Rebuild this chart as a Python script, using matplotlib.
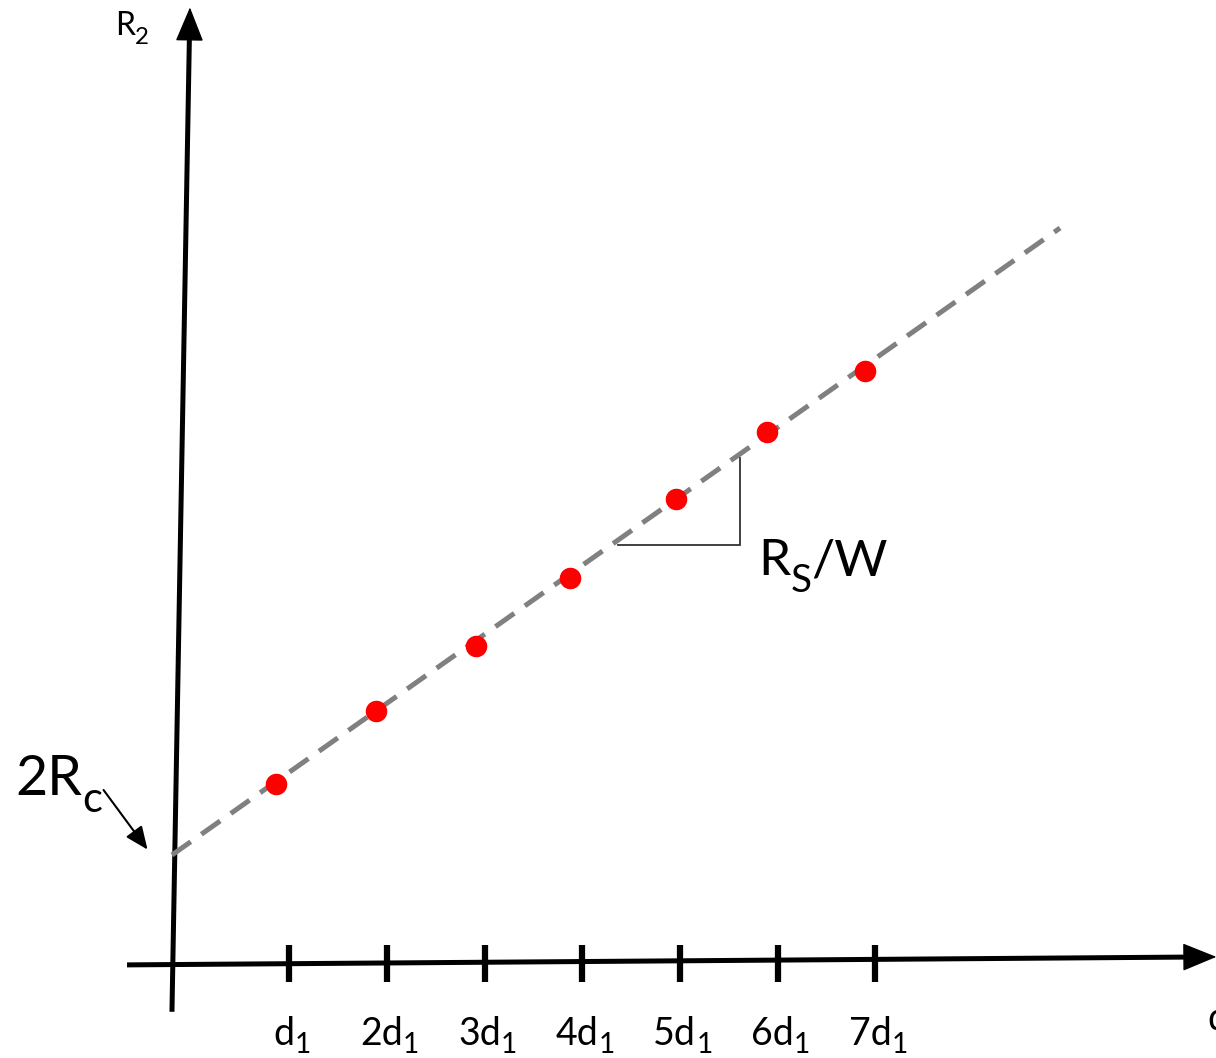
import numpy as np
import matplotlib
matplotlib.use('Agg')
import matplotlib.pyplot as plt

plt.rcParams['font.family'] = ['Lato', 'DejaVu Sans']

# measured points (x in units of d1, R2 in arbitrary units)
d_pos = [0.87, 1.89, 2.91, 3.87, 4.96, 5.89, 6.89]
r2_vals = [1.82, 2.57, 3.23, 3.93, 4.74, 5.42, 6.05]
tick_pos = [1, 2, 3, 4, 5, 6, 7]
tick_labels = [('d', '1'), ('2d', '1'), ('3d', '1'), ('4d', '1'),
               ('5d', '1'), ('6d', '1'), ('7d', '1')]
# linear fit: R2 = 2Rc + (Rs/W) * d
intercept = 1.236
slope = 0.706
fit_range = [-0.2, 8.89]

DPI = 100
fig = plt.figure(figsize=(12.16, 10.58), dpi=DPI)
ax = fig.add_axes([0, 0, 1, 1])
ax.set_xlim(-1.96, 10.486)
ax.set_ylim(-0.983, 9.846)
ax.axis('off')
renderer = fig.canvas.get_renderer()


def rich_text(x, y, parts, size, center=False, sub_scale=0.72, sub_drop=0.25):
    # parts: list of (string, is_subscript); drawn one after another
    objs = []
    dx = 0.0
    for s, is_sub in parts:
        fs = size * sub_scale if is_sub else size
        dy = -sub_drop * size if is_sub else 0
        t = ax.annotate(s, xy=(x, y), xytext=(dx, dy), textcoords='offset points',
                        fontsize=fs, ha='left', va='baseline')
        w = t.get_window_extent(renderer).width * 72.0 / DPI
        objs.append((t, dx, dy))
        dx += w
    if center:
        for t, ox, oy in objs:
            t.xyann = (ox - dx / 2, oy)


# axes (hand drawn, slightly tilted)
ax.plot([-0.2, -0.02], [-0.51, 9.55], color='k', lw=3.6, solid_capstyle='butt')
ax.annotate('', xy=(-0.016, 9.77), xytext=(-0.02, 9.5),
            arrowprops=dict(arrowstyle='-|>,head_length=1.1,head_width=0.45',
                            mutation_scale=20, color='k', lw=1, shrinkA=0, shrinkB=0))
ax.plot([-0.66, 10.2], [-0.03, 0.05], color='k', lw=3.6, solid_capstyle='butt')
ax.annotate('', xy=(10.49, 0.052), xytext=(10.2, 0.05),
            arrowprops=dict(arrowstyle='-|>,head_length=1.1,head_width=0.45',
                            mutation_scale=20, color='k', lw=1, shrinkA=0, shrinkB=0))

for t, lab in zip(tick_pos, tick_labels):
    ax.plot([t, t], [-0.2, 0.17], color='k', lw=4.5, solid_capstyle='butt')
    rich_text(t + 0.03, -0.85, [(lab[0], False), (lab[1], True)], 27,
              center=True, sub_scale=0.75, sub_drop=0.2)

# fit line
xf = np.array(fit_range)
ax.plot(xf, intercept + slope * xf, color='#808080', lw=3.6,
        linestyle=(0, (4.6, 2.6)), dash_capstyle='butt', zorder=2)

ax.plot(d_pos, r2_vals, 'o', color='#ff0000', markersize=14.5, zorder=3)

# slope triangle
tx0, tx1, ty0 = 4.365, 5.614, 4.268
ax.plot([tx0, tx1, tx1], [ty0, ty0, intercept + slope * tx1 - 0.04],
        color='#333333', lw=1.3, solid_joinstyle='miter')
rich_text(5.80, 3.96, [('R', False), ('S', True), ('/W', False)], 37,
          sub_scale=0.75, sub_drop=0.32)

# intercept label
rich_text(-1.807, 1.71, [('2R', False), ('c', True)], 40, sub_scale=0.75, sub_drop=0.3)
ax.annotate('', xy=(-0.45, 1.15), xytext=(-0.9, 1.76),
            arrowprops=dict(arrowstyle='-|>,head_length=0.7,head_width=0.3',
                            mutation_scale=20, color='k', lw=1.5, shrinkA=0, shrinkB=0))

rich_text(-0.783, 9.49, [('R', False), ('2', True)], 23, sub_scale=0.75, sub_drop=0.28)
ax.text(10.40, -0.7, 'd', ha='left', va='baseline', fontsize=27)

fig.savefig('out.png', dpi=DPI)
